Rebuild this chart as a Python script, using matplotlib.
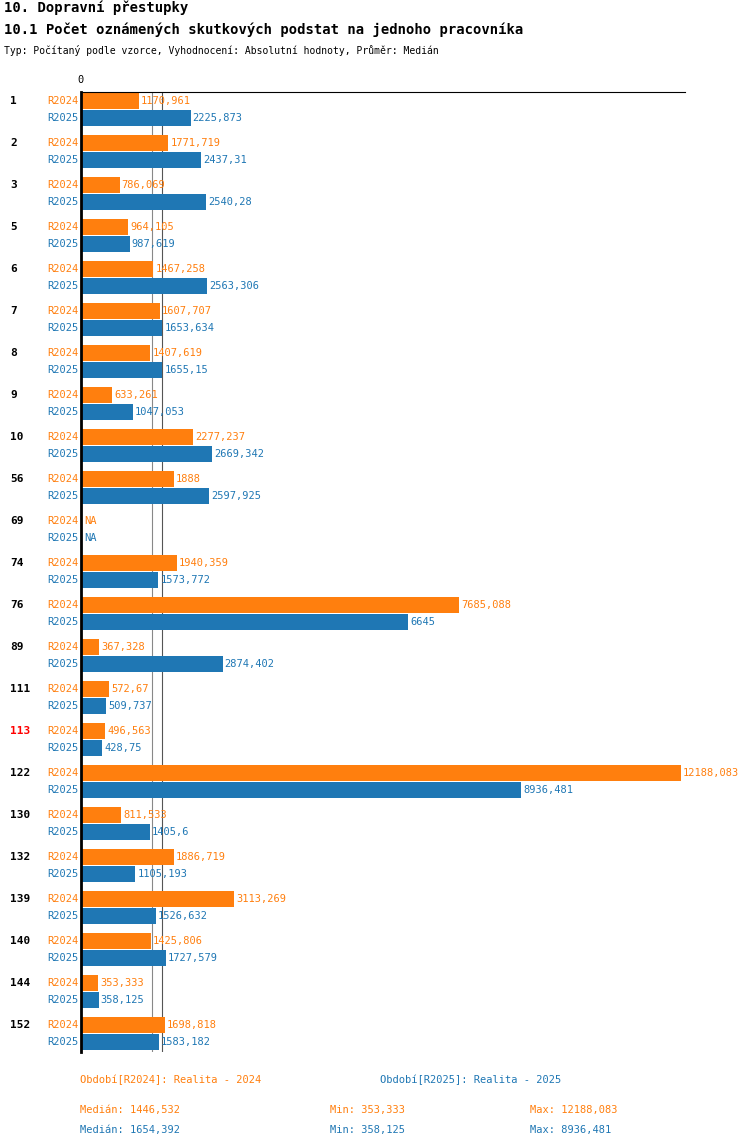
import matplotlib
matplotlib.use("Agg")
import matplotlib.pyplot as plt

plt.rcParams['font.family'] = ['DejaVu Sans Mono']

groups = ["1", "2", "3", "5", "6", "7", "8", "9", "10", "56", "69", "74", "76", "89",
          "111", "113", "122", "130", "132", "139", "140", "144", "152"]
r2024 = [1170.961, 1771.719, 786.069, 964.105, 1467.258, 1607.707, 1407.619, 633.261,
         2277.237, 1888, None, 1940.359, 7685.088, 367.328, 572.67, 496.563, 12188.083,
         811.533, 1886.719, 3113.269, 1425.806, 353.333, 1698.818]
r2025 = [2225.873, 2437.31, 2540.28, 987.619, 2563.306, 1653.634, 1655.15, 1047.053,
         2669.342, 2597.925, None, 1573.772, 6645, 2874.402, 509.737, 428.75, 8936.481,
         1405.6, 1105.193, 1526.632, 1727.579, 358.125, 1583.182]
median24, median25 = 1446.532, 1654.392
min24, min25 = 353.333, 358.125
max24, max25 = 12188.083, 8936.481

C24 = "#ff7f0e"
C25 = "#1f77b4"
W, H = 750, 1148

def fmt(v):
    s = ("%.3f" % v).rstrip("0").rstrip(".")
    return s.replace(".", ",")

fig = plt.figure(figsize=(7.5, 11.48), dpi=100)
ax = fig.add_axes([81 / W, 1 - 1052 / H, (685 - 81) / W, (1052 - 92) / H])
xmax = 12188.083 * (685 - 81) / (681 - 81)
ax.set_xlim(0, xmax)
ax.set_ylim(1052, 92)

for i, g in enumerate(groups):
    y1 = 101 + 42 * i
    y2 = y1 + 17
    for y, v, c, lab in [(y1, r2024[i], C24, "R2024"), (y2, r2025[i], C25, "R2025")]:
        ax.text(-3 * xmax / 604, y, lab, color=c, fontsize=7.5, ha="right", va="center")
        if v is None:
            ax.text(3 * xmax / 604, y, "NA", color=c, fontsize=7.5, va="center")
        else:
            ax.barh(y, v, height=16, color=c)
            ax.text(v + 2 * xmax / 604, y, fmt(v), color=c, fontsize=7.5, va="center")
    ax.text(-71 * xmax / 604, y1, g, fontsize=8, fontweight="bold", va="center",
            color="red" if g == "113" else "black")

ax.axvline(median24, color="#888888", lw=0.8, zorder=0)
ax.axvline(median25, color="#555555", lw=0.8, zorder=0)

for s in ["right", "bottom"]:
    ax.spines[s].set_visible(False)
ax.spines["left"].set_linewidth(2)
ax.spines["top"].set_linewidth(0.8)
ax.set_xticks([])
ax.set_yticks([])
ax.text(0, 85, "0", fontsize=7.5, ha="center", va="bottom", clip_on=False)

fig.text(4 / W, 1 - 8 / H, "10. Dopravní přestupky", fontsize=10, fontweight="bold", va="center")
fig.text(4 / W, 1 - 30 / H, "10.1 Počet oznámených skutkových podstat na jednoho pracovníka",
         fontsize=10, fontweight="bold", va="center")
fig.text(4 / W, 1 - 50 / H, "Typ: Počítaný podle vzorce, Vyhodnocení: Absolutní hodnoty, Průměr: Medián",
         fontsize=7, va="center")

fig.text(80 / W, 1 - 1080 / H, "Období[R2024]: Realita - 2024", color=C24, fontsize=7.5, va="center")
fig.text(380 / W, 1 - 1080 / H, "Období[R2025]: Realita - 2025", color=C25, fontsize=7.5, va="center")
for yy, c, md, mn, mx in [(1110, C24, median24, min24, max24), (1130, C25, median25, min25, max25)]:
    fig.text(80 / W, 1 - yy / H, "Medián: " + fmt(md), color=c, fontsize=7.5, va="center")
    fig.text(330 / W, 1 - yy / H, "Min: " + fmt(mn), color=c, fontsize=7.5, va="center")
    fig.text(530 / W, 1 - yy / H, "Max: " + fmt(mx), color=c, fontsize=7.5, va="center")

fig.savefig("out.png", dpi=100)
